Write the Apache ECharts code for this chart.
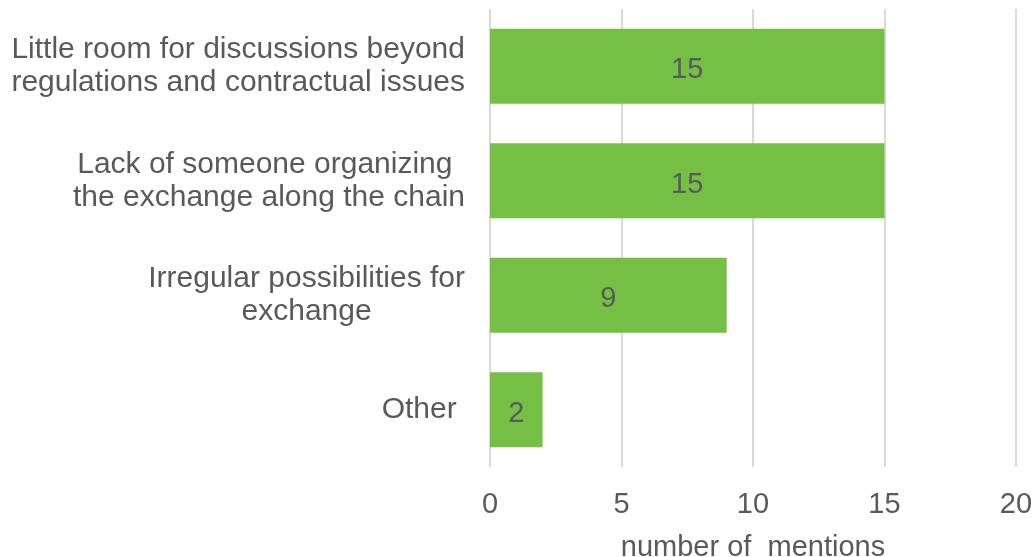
<!DOCTYPE html>
<html>
<head>
<meta charset="utf-8">
<script src="https://cdn.jsdelivr.net/npm/echarts@6/dist/echarts.min.js"></script>
<style>
  html, body { margin: 0; padding: 0; background: #fff; }
  #chart { width: 1036px; height: 557px; }
</style>
</head>
<body>
<div id="chart"></div>
<script>
// reasons, top to bottom
var categories = [
  'Little room for discussions beyond\nregulations and contractual issues',
  'Lack of someone organizing \nthe exchange along the chain',
  'Irregular possibilities for\nexchange',
  'Other '
];
var mentions = [15, 15, 9, 2];
var xTicks = [0, 5, 10, 15, 20];

var chart = echarts.init(document.getElementById('chart'));

chart.setOption({
  animation: false,
  textStyle: { fontFamily: 'Liberation Sans, Arial, sans-serif' },
  grid: {
    left: 490, right: 20, top: 9, bottom: 90,
    containLabel: false,
    outerBoundsMode: 'none'
  },
  xAxis: {
    type: 'value',
    min: xTicks[0],
    max: xTicks[xTicks.length - 1],
    interval: 5,
    name: 'number of  mentions',
    nameLocation: 'middle',
    nameGap: 66,
    nameTextStyle: { color: '#595959', fontSize: 29 },
    axisLine: { show: false },
    axisTick: { show: false },
    axisLabel: { color: '#595959', fontSize: 29, margin: 23 },
    splitLine: { show: true, lineStyle: { color: '#d9d9d9', width: 2 } }
  },
  yAxis: {
    type: 'category',
    data: categories,
    inverse: true,
    axisLine: { show: false },
    axisTick: { show: false },
    axisLabel: {
      margin: 25,
      color: '#595959',
      fontSize: 30,
      lineHeight: 33,
      formatter: function (v) {
        return v.split('\n').map(function (s) { return '{c|' + s + '}'; }).join('\n');
      },
      rich: {
        c: { align: 'center', color: '#595959', fontSize: 30, lineHeight: 33 }
      }
    }
  },
  series: [{
    type: 'bar',
    data: mentions,
    barWidth: 75,
    itemStyle: { color: '#74bf44' },
    label: {
      show: true,
      position: 'inside',
      offset: [0, 4],
      color: '#595959',
      fontSize: 29
    }
  }]
});
</script>
</body>
</html>
